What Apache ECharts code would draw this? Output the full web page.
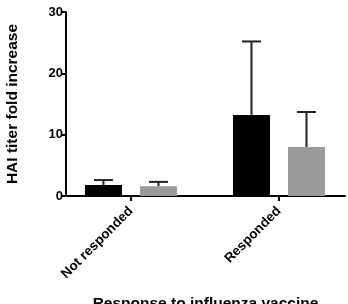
<!DOCTYPE html>
<html><head><meta charset="utf-8">
<script src="https://cdn.jsdelivr.net/npm/echarts@6/dist/echarts.min.js"></script>
<style>html,body{margin:0;padding:0;background:#fff}#c{width:348px;height:304px}</style>
</head><body><div id="c"></div>
<script>
const categories = ['Not responded', 'Responded'];
const catPositions = [1, 2];
const seriesBlackMean = [1.8, 13.2];
const seriesBlackErr = [2.6, 25.2];
const seriesGrayMean = [1.6, 8.0];
const seriesGrayErr = [2.3, 13.7];
const yTicks = [0, 10, 20, 30];

const BAR_W = 37, GAP = 18;
const offset = (BAR_W + GAP) / 2;
const font = 'Liberation Sans, Arial, sans-serif';

function errSeries(means, tops, dx) {
  return {
    type: 'custom',
    z: 1,
    data: catPositions.map((p, i) => [p, means[i], tops[i]]),
    renderItem: function (params, api) {
      const base = api.coord([api.value(0), api.value(1)]);
      const top = api.coord([api.value(0), api.value(2)]);
      const x = base[0] + dx;
      return {
        type: 'group',
        children: [
          { type: 'line', shape: { x1: x, y1: base[1], x2: x, y2: top[1] }, style: { stroke: '#222', lineWidth: 2 } },
          { type: 'line', shape: { x1: x - 9.5, y1: top[1], x2: x + 9.5, y2: top[1] }, style: { stroke: '#222', lineWidth: 2 } }
        ]
      };
    }
  };
}

const chart = echarts.init(document.getElementById('c'));
chart.setOption({
  animation: false,
  grid: { left: 66, right: 3, top: 12, bottom: 108, containLabel: false, outerBoundsMode: 'none' },
  xAxis: {
    type: 'value', min: 0.561, max: 2.446,
    splitLine: { show: false },
    axisLine: { show: true, lineStyle: { color: '#000', width: 2 } },
    axisTick: { show: true, customValues: catPositions, length: 5, lineStyle: { color: '#000', width: 2 } },
    axisLabel: {
      customValues: catPositions,
      formatter: v => categories[catPositions.indexOf(Math.round(v))] || '',
      rotate: 45, color: '#000', fontWeight: 'bold', fontSize: 13.5, fontFamily: font, margin: 13
    },
    name: 'Response to influenza vaccine',
    nameLocation: 'middle', nameGap: 100,
    nameTextStyle: { color: '#000', fontWeight: 'bold', fontSize: 15.5, fontFamily: font }
  },
  yAxis: {
    type: 'value', min: 0, max: 30, interval: 10,
    splitLine: { show: false },
    axisLine: { show: true, lineStyle: { color: '#000', width: 2 } },
    axisTick: { show: true, length: 5, lineStyle: { color: '#000', width: 2 } },
    axisLabel: { color: '#000', fontWeight: 'bold', fontSize: 13, fontFamily: font, margin: 3,
      formatter: v => yTicks.includes(v) ? String(v) : '' },
    name: 'HAI titer fold increase',
    nameLocation: 'middle', nameGap: 45,
    nameTextStyle: { color: '#000', fontWeight: 'bold', fontSize: 15.5, fontFamily: font }
  },
  series: [
    { type: 'bar', data: catPositions.map((p, i) => [p, seriesBlackMean[i]]), barWidth: BAR_W, barGap: (GAP / BAR_W * 100) + '%', itemStyle: { color: '#000' }, z: 2 },
    { type: 'bar', data: catPositions.map((p, i) => [p, seriesGrayMean[i]]), barWidth: BAR_W, barGap: (GAP / BAR_W * 100) + '%', itemStyle: { color: '#9a9a9a' }, z: 2 },
    errSeries(seriesBlackMean, seriesBlackErr, -offset),
    errSeries(seriesGrayMean, seriesGrayErr, offset)
  ]
});
</script></body></html>
